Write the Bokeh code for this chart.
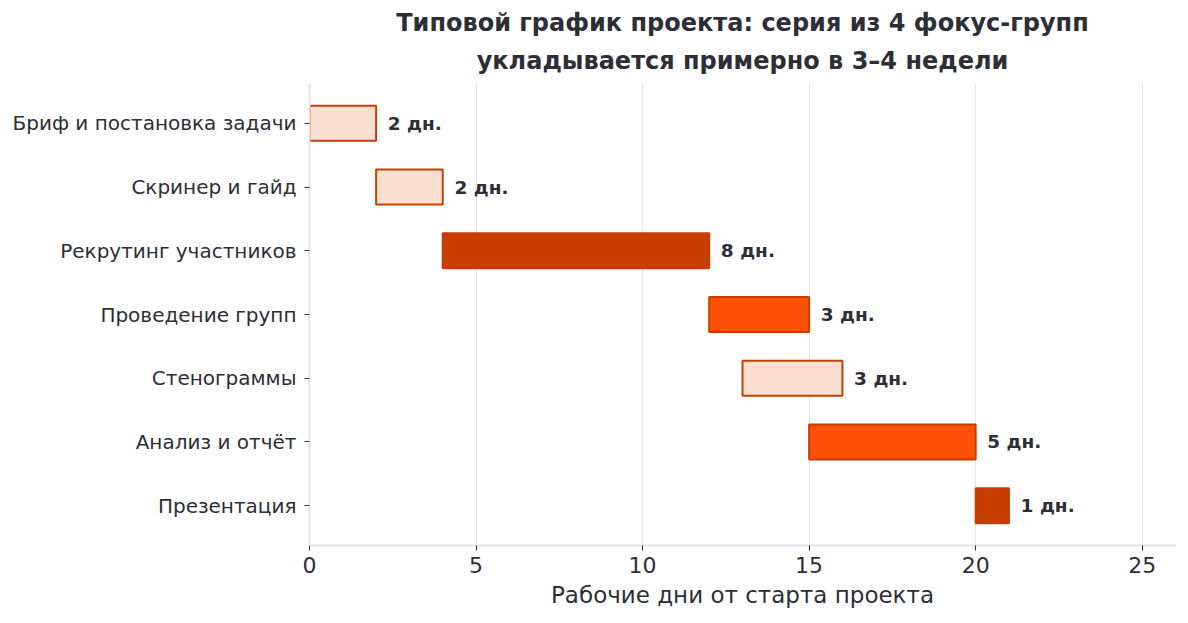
from bokeh.plotting import figure
from bokeh.models import ColumnDataSource, Range1d, FixedTicker, Title, LabelSet
from bokeh.core.properties import value
from bokeh.embed import file_html
from bokeh.resources import INLINE

tasks = ["Бриф и постановка задачи", "Скринер и гайд", "Рекрутинг участников",
         "Проведение групп", "Стенограммы", "Анализ и отчёт", "Презентация"]
starts = [0, 2, 4, 12, 13, 15, 20]
durations = [2, 2, 8, 3, 3, 5, 1]
kinds = ["light", "light", "dark", "bright", "light", "bright", "dark"]
x_ticks = [0, 5, 10, 15, 20, 25]
title_lines = ["Типовой график проекта: серия из 4 фокус-групп",
               "укладывается примерно в 3–4 недели"]

palette = {"light": "#fee0d2", "dark": "#c73e00", "bright": "#ff5208"}
EDGE = "#c73e00"
TXT = "#2e2e36"
FONT = "DejaVu Sans"

n = len(tasks)
ypos = [n - 1 - i for i in range(n)]
src = ColumnDataSource(dict(
    y=ypos,
    start=starts,
    end=[s + d for s, d in zip(starts, durations)],
    fill=[palette[k] for k in kinds],
    lab=[f"{d} дн." for d in durations],
    lx=[s + d + 0.35 for s, d in zip(starts, durations)],
))

p = figure(width=1188, height=623, output_backend="svg", toolbar_location=None,
           x_range=Range1d(0, 26), y_range=Range1d(-0.625, n - 1 + 0.625),
           min_border_left=309, min_border_right=13, min_border_top=83, min_border_bottom=78)
p.outline_line_color = None
p.background_fill_color = "white"
p.border_fill_color = "white"

p.hbar(y="y", left="start", right="end", height=0.55, source=src,
       fill_color="fill", line_color=EDGE, line_width=2)

labels = LabelSet(x="lx", y="y", text="lab", source=src, text_font=value(FONT),
                  text_font_size=value("18.5px"), text_font_style=value("bold"), text_color=value(TXT),
                  text_baseline=value("middle"), text_align=value("left"))
p.add_layout(labels)

# axes
p.xaxis.ticker = FixedTicker(ticks=x_ticks)
p.xaxis.axis_label = "Рабочие дни от старта проекта"
p.xaxis.axis_label_text_font = FONT
p.xaxis.axis_label_text_font_size = "23px"
p.xaxis.axis_label_text_font_style = "normal"
p.xaxis.axis_label_text_color = TXT
p.xaxis.axis_label_standoff = 6
p.xaxis.major_label_text_font = FONT
p.xaxis.major_label_text_font_size = "22px"
p.xaxis.major_label_text_color = TXT
p.xaxis.major_label_standoff = 6
p.xaxis.axis_line_color = "#e3e3e8"
p.xaxis.axis_line_width = 2
p.xaxis.major_tick_line_color = TXT
p.xaxis.major_tick_out = 5
p.xaxis.major_tick_in = 0
p.xaxis.minor_tick_line_color = None

p.yaxis.ticker = FixedTicker(ticks=ypos)
p.yaxis.major_label_overrides = {y: t for y, t in zip(ypos, tasks)}
p.yaxis.major_label_text_font = FONT
p.yaxis.major_label_text_font_size = "20px"
p.yaxis.major_label_text_color = TXT
p.yaxis.major_label_standoff = 8
p.yaxis.axis_line_color = "#e3e3e8"
p.yaxis.axis_line_width = 2
p.yaxis.major_tick_line_color = TXT
p.yaxis.major_tick_out = 5
p.yaxis.major_tick_in = 0
p.yaxis.minor_tick_line_color = None

p.xgrid.grid_line_color = "#e6e6e6"
p.xgrid.grid_line_width = 1
p.ygrid.grid_line_color = None

p.add_layout(Title(text=title_lines[1], align="center",
                   text_font=FONT, text_font_size="24px", text_font_style="bold",
                   text_color=TXT, offset=0, standoff=17), "above")
p.add_layout(Title(text=title_lines[0], align="center",
                   text_font=FONT, text_font_size="24px", text_font_style="bold",
                   text_color=TXT, offset=0, standoff=0), "above")

open("out.html", "w").write(file_html(p, INLINE))
